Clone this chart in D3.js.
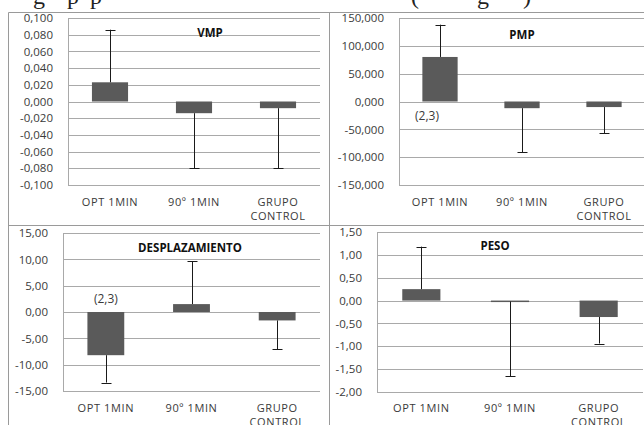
<!DOCTYPE html>
<html><head><meta charset="utf-8">
<script src="https://cdn.jsdelivr.net/npm/d3@7"></script>
<style>
html,body{margin:0;padding:0;background:#fff;}
svg{display:block;}
</style></head>
<body>
<script>
// ---------- DATA ----------
const categories = ["OPT 1MIN", "90º 1MIN", "GRUPO CONTROL"];

const vmpMean = [0.023, -0.014, -0.008];
const vmpSD   = [0.063, 0.066, 0.072];
const vmpTicks = [-0.1, -0.08, -0.06, -0.04, -0.02, 0, 0.02, 0.04, 0.06, 0.08, 0.1];

const pmpMean = [80, -12, -10];
const pmpSD   = [58, 79, 47];
const pmpTicks = [-150, -100, -50, 0, 50, 100, 150];

const despMean = [-8.2, 1.5, -1.6];
const despSD   = [5.2, 8.1, 5.5];
const despTicks = [-15, -10, -5, 0, 5, 10, 15];

const pesoMean = [0.25, -0.02, -0.36];
const pesoSD   = [0.93, 1.63, 0.58];
const pesoTicks = [-2, -1.5, -1, -0.5, 0, 0.5, 1, 1.5];

const titles = ["VMP", "PMP", "DESPLAZAMIENTO", "PESO"];
const annotations = [null, {cat: 0, text: "(2,3)"}, {cat: 0, text: "(2,3)"}, null];
const captionFragments = ["g", "p", "p", "(", "g", ")"];

// ---------- LAYOUT ----------
const W = 644, H = 425;
const font = "'Open Sans', 'Liberation Sans', sans-serif";
const textColor = "#3a3a3a";
const gridColor = "#a9a9a9";
const barColor = "#5a5a5a";

const panels = [
  {mean: vmpMean, sd: vmpSD, ticks: vmpTicks, dec: 3, x0: 68, x1: 320, y0: 18, y1: 185, titleX: 210, titleY: 37, labelY: 206, annDx: 0, annDy: 0},
  {mean: pmpMean, sd: pmpSD, ticks: pmpTicks, dec: 3, x0: 399, x1: 645, y0: 18, y1: 185, titleX: 522, titleY: 39, labelY: 206, annDx: -13, annDy: 15},
  {mean: despMean, sd: despSD, ticks: despTicks, dec: 2, x0: 63, x1: 320, y0: 233, y1: 391, titleX: 190, titleY: 252, labelY: 412, annDx: 0, annDy: -12},
  {mean: pesoMean, sd: pesoSD, ticks: pesoTicks, dec: 2, x0: 377, x1: 643, y0: 232, y1: 392, titleX: 495, titleY: 250, labelY: 412, annDx: 0, annDy: 0}
];

const svg = d3.select("body").append("svg").attr("width", W).attr("height", H);

// caption fragments (cut-off line of text above the figure)
const capX = [33, 67, 90, 411, 477, 523];
svg.append("g").selectAll("text").data(captionFragments).join("text")
  .attr("x", (d, i) => capX[i]).attr("y", 3.5)
  .attr("font-family", "'Liberation Serif', 'DejaVu Serif', serif")
  .attr("font-size", 24).attr("fill", "#222")
  .text(d => d);

// outer frame
const frame = svg.append("g").attr("stroke", "#9a9a9a").attr("stroke-width", 1).attr("fill", "none");
frame.append("line").attr("x1", 8.5).attr("x2", W).attr("y1", 12.5).attr("y2", 12.5);
frame.append("line").attr("x1", 8.5).attr("x2", 8.5).attr("y1", 12.5).attr("y2", H);
frame.append("line").attr("x1", 329.5).attr("x2", 329.5).attr("y1", 12.5).attr("y2", H);
frame.append("line").attr("x1", 8.5).attr("x2", W).attr("y1", 225.5).attr("y2", 225.5);

const fmtFor = dec => v => d3.format(`.${dec}f`)(v).replace(".", ",").replace("\u2212", "-");

panels.forEach((p, pi) => {
  const g = svg.append("g");
  const x = d3.scaleBand().domain(categories).range([p.x0, p.x1]).paddingInner(0.57).paddingOuter(0.285);
  const y = d3.scaleLinear().domain(d3.extent(p.ticks)).range([p.y1, p.y0]);
  const fmt = fmtFor(p.dec);

  // gridlines
  g.append("g").selectAll("line").data(p.ticks).join("line")
    .attr("x1", p.x0).attr("x2", p.x1)
    .attr("y1", d => Math.round(y(d)) + 0.5).attr("y2", d => Math.round(y(d)) + 0.5)
    .attr("stroke", gridColor).attr("stroke-width", 1);
  // plot area left border
  g.append("line").attr("x1", p.x0 + 0.5).attr("x2", p.x0 + 0.5)
    .attr("y1", Math.round(y(p.ticks[p.ticks.length - 1])) + 0.5)
    .attr("y2", Math.round(y(p.ticks[0])) + 0.5)
    .attr("stroke", gridColor);

  // y axis labels
  const yAxis = d3.axisLeft(y).tickValues(p.ticks).tickFormat(fmt).tickSize(0).tickPadding(15);
  const ax = g.append("g").attr("transform", `translate(${p.x0},0)`).call(yAxis);
  ax.select(".domain").remove();
  ax.selectAll("text").attr("font-family", font).attr("font-size", 11.5).attr("fill", textColor);

  // bars
  const cx = c => x(c) + x.bandwidth() / 2;
  g.append("g").selectAll("rect").data(categories).join("rect")
    .attr("x", c => x(c))
    .attr("width", x.bandwidth())
    .attr("y", (c, i) => y(Math.max(0, p.mean[i])))
    .attr("height", (c, i) => Math.max(1.5, Math.abs(y(p.mean[i]) - y(0))))
    .attr("fill", barColor);

  // error bars (one-sided, away from zero)
  const eb = g.append("g").attr("stroke", "#1a1a1a").attr("stroke-width", 1);
  categories.forEach((c, i) => {
    const m = p.mean[i];
    const end = m + (m >= 0 ? 1 : -1) * p.sd[i];
    const xc = Math.round(cx(c)) + 0.5;
    eb.append("line").attr("x1", xc).attr("x2", xc).attr("y1", y(m)).attr("y2", y(end));
    eb.append("line").attr("x1", xc - 5).attr("x2", xc + 5).attr("y1", Math.round(y(end)) + 0.5).attr("y2", Math.round(y(end)) + 0.5);
  });

  // category labels
  const lab = g.append("g").selectAll("text").data(categories).join("text")
    .attr("x", c => cx(c)).attr("y", p.labelY)
    .attr("text-anchor", "middle").attr("font-family", font).attr("font-size", 11)
    .attr("letter-spacing", 0.6).attr("fill", textColor);
  lab.each(function(c) {
    const parts = c === "GRUPO CONTROL" ? ["GRUPO", "CONTROL"] : [c];
    const t = d3.select(this);
    parts.forEach((s, k) => t.append("tspan").attr("x", cx(c)).attr("dy", k === 0 ? 0 : 13.5).text(s));
  });

  // title
  g.append("text").attr("x", p.titleX).attr("y", p.titleY).attr("text-anchor", "middle")
    .attr("font-family", font).attr("font-weight", "bold").attr("font-size", 11.5)
    .attr("fill", "#111").text(titles[pi]);

  // annotation
  const a = annotations[pi];
  if (a) {
    const c = categories[a.cat];
    g.append("text").attr("x", cx(c) + p.annDx).attr("y", y(0) + p.annDy)
      .attr("text-anchor", "middle").attr("dominant-baseline", "middle")
      .attr("font-family", font).attr("font-size", 12).attr("fill", textColor)
      .text(a.text);
  }
});
</script>
</body></html>
